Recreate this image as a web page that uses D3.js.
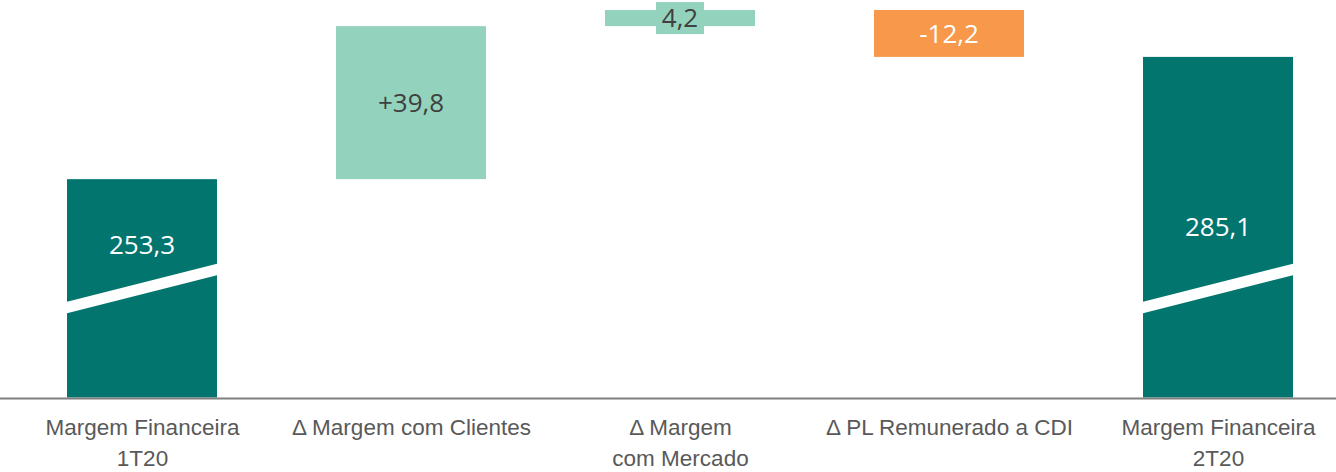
<!DOCTYPE html>
<html>
<head>
<meta charset="utf-8">
<script src="https://cdn.jsdelivr.net/npm/d3@7"></script>
<style>
  html, body { margin: 0; padding: 0; background: #fff; }
  svg { display: block; font-family: "Open Sans", sans-serif; }
</style>
</head>
<body>
<svg id="chart" width="1336" height="472"></svg>
<script>
// dados do gráfico (R$ milhões)
const categories = ['Margem Financeira\n1T20', 'Δ Margem com Clientes', 'Δ Margem\ncom Mercado', 'Δ PL Remunerado a CDI', 'Margem Financeira\n2T20'];
const values = [253.3, 39.8, 4.2, -12.2, 285.1];
const kinds = ['total', 'delta', 'delta', 'delta', 'total'];
const valueLabels = ['253,3', '+39,8', '4,2', '-12,2', '285,1'];

const width = 1336, height = 472;
const baseY = 397.5;
const barW = 150;

// monta as barras do waterfall
let running = 0;
const bars = values.map((v, i) => {
    let start, end;
    if (kinds[i] === 'total') { start = null; end = v; running = v; }
    else { start = running; end = running + v; running = end; }
    return { cat: categories[i], value: v, kind: kinds[i], start, end, label: valueLabels[i] };
});

const svg = d3.select('#chart');

const x = d3.scalePoint()
    .domain(categories)
    .range([142, 1218]);

// eixo quebrado: começa perto de 196,5
const y = d3.scaleLinear()
    .domain([196.5, 297.3])
    .range([baseY, 10]);

const colorOf = d => {
    if (d.kind === 'total') return '#02756e';
    return d.value >= 0 ? '#93d3bd' : '#f7984a';
};

const g = svg.append('g');

g.selectAll('rect.bar')
    .data(bars)
    .join('rect')
    .attr('class', 'bar')
    .attr('x', d => x(d.cat) - barW / 2)
    .attr('width', barW)
    .attr('y', d => d.kind === 'total' ? y(d.end) : y(Math.max(d.start, d.end)))
    .attr('height', d => d.kind === 'total' ? baseY - y(d.end) : Math.abs(y(d.start) - y(d.end)))
    .attr('fill', colorOf);

// faixa branca de quebra nas barras totais
g.selectAll('path.break')
    .data(bars.filter(d => d.kind === 'total'))
    .join('path')
    .attr('class', 'break')
    .attr('fill', '#fff')
    .attr('d', d => {
        const x0 = x(d.cat) - barW / 2 - 1, x1 = x(d.cat) + barW / 2 + 1;
        return `M${x0},${baseY - 95.5} L${x1},${baseY - 134} L${x1},${baseY - 122.5} L${x0},${baseY - 84} Z`;
    });

// rótulos de valor
const labelY = (d, i) => {
    if (d.kind === 'total') {
        const mid = (y(d.end) + baseY) / 2;
        return i === 0 ? y(d.end) + 66 : mid;
    }
    return (y(d.start) + y(d.end)) / 2;
};

const labels = g.selectAll('g.vlabel')
    .data(bars)
    .join('g')
    .attr('class', 'vlabel')
    .attr('transform', (d, i) => `translate(${x(d.cat)},${labelY(d, i)})`);

// caixa do rótulo para a barra pequena
labels.filter(d => d.kind === 'delta' && Math.abs(y(d.start) - y(d.end)) < 30)
    .append('rect')
    .attr('x', -24)
    .attr('y', -16)
    .attr('width', 48)
    .attr('height', 32)
    .attr('fill', colorOf);

labels.append('text')
    .attr('text-anchor', 'middle')
    .attr('dy', '0.35em')
    .attr('font-size', 26)
    .attr('fill', d => (d.kind === 'delta' && d.value >= 0) ? '#404040' : '#ffffff')
    .text(d => d.label);

// eixo x
const axis = svg.append('g')
    .attr('transform', `translate(0,${baseY})`)
    .call(d3.axisBottom(x).tickSize(0).tickFormat(''));
axis.select('.domain').remove();
axis.append('line')
    .attr('x1', 0).attr('x2', width)
    .attr('y1', 1).attr('y2', 1)
    .attr('stroke', '#7f7f7f')
    .attr('stroke-width', 2);

axis.selectAll('.tick text').remove();
axis.selectAll('.tick')
    .append('text')
    .attr('text-anchor', 'middle')
    .attr('font-size', 22.5)
    .attr('fill', '#595959')
    .each(function (d) {
        const lines = d.split('\n');
        d3.select(this).selectAll('tspan')
            .data(lines)
            .join('tspan')
            .attr('x', 0)
            .attr('y', (l, i) => 37.5 + i * 31)
            .text(l => l);
    });
</script>
</body>
</html>
